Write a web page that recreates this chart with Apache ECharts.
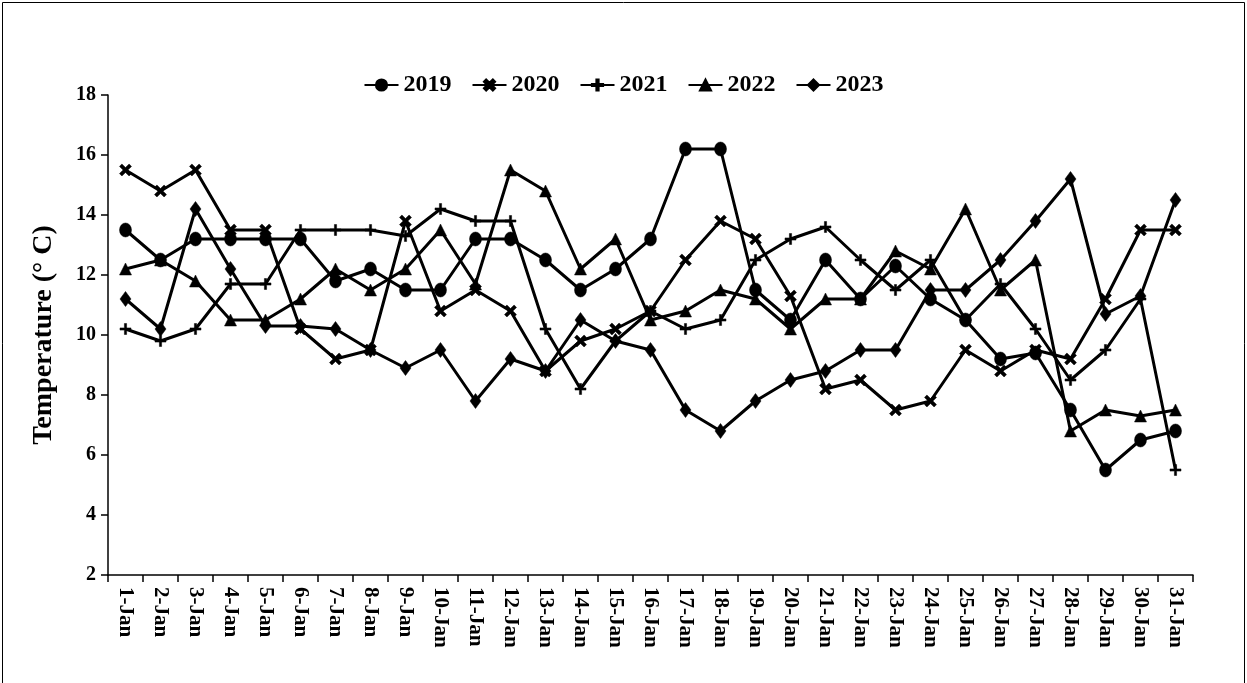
<!DOCTYPE html>
<html><head><meta charset="utf-8">
<script src="https://cdn.jsdelivr.net/npm/echarts@6/dist/echarts.min.js"></script>
<style>html,body{margin:0;padding:0;background:#fff}#c{width:1247px;height:683px}</style>
</head><body><div id="c"></div>
<script>
const days = ['1-Jan','2-Jan','3-Jan','4-Jan','5-Jan','6-Jan','7-Jan','8-Jan','9-Jan','10-Jan','11-Jan','12-Jan','13-Jan','14-Jan','15-Jan','16-Jan','17-Jan','18-Jan','19-Jan','20-Jan','21-Jan','22-Jan','23-Jan','24-Jan','25-Jan','26-Jan','27-Jan','28-Jan','29-Jan','30-Jan','31-Jan'];
const y2019 = [13.5,12.5,13.2,13.2,13.2,13.2,11.8,12.2,11.5,11.5,13.2,13.2,12.5,11.5,12.2,13.2,16.2,16.2,11.5,10.5,12.5,11.2,12.3,11.2,10.5,9.2,9.4,7.5,5.5,6.5,6.8];
const y2020 = [15.5,14.8,15.5,13.5,13.5,10.2,9.2,9.5,13.8,10.8,11.5,10.8,8.8,9.8,10.2,10.8,12.5,13.8,13.2,11.3,8.2,8.5,7.5,7.8,9.5,8.8,9.5,9.2,11.2,13.5,13.5];
const y2021 = [10.2,9.8,10.2,11.7,11.7,13.5,13.5,13.5,13.3,14.2,13.8,13.8,10.2,8.2,9.8,10.8,10.2,10.5,12.5,13.2,13.6,12.5,11.5,12.5,10.5,11.7,10.2,8.5,9.5,11.2,5.5];
const y2022 = [12.2,12.5,11.8,10.5,10.5,11.2,12.2,11.5,12.2,13.5,11.7,15.5,14.8,12.2,13.2,10.5,10.8,11.5,11.2,10.2,11.2,11.2,12.8,12.2,14.2,11.5,12.5,6.8,7.5,7.3,7.5];
const y2023 = [11.2,10.2,14.2,12.2,10.3,10.3,10.2,9.5,8.9,9.5,7.8,9.2,8.8,10.5,9.8,9.5,7.5,6.8,7.8,8.5,8.8,9.5,9.5,11.5,11.5,12.5,13.8,15.2,10.7,11.3,14.5];
const yTicks = [2,4,6,8,10,12,14,16,18];

const F = 'Liberation Serif, Times New Roman, serif';
const X_MARK = 'path://M2,0 L5,3 L8,0 L10,2 L7,5 L10,8 L8,10 L5,7 L2,10 L0,8 L3,5 L0,2 Z';
const PLUS = 'path://M4,0 H6 V4 H10 V6 H6 V10 H4 V6 H0 V4 H4 Z';
function mk(name, data, symbol, size){
  return {name, type:'line', data, symbol, symbolSize:size, showSymbol:true,
    lineStyle:{color:'#000', width:3}, itemStyle:{color:'#000', borderColor:'#000', borderWidth:0.5},
    emphasis:{disabled:true}, animation:false};
}
const chart = echarts.init(document.getElementById('c'));
chart.setOption({
  backgroundColor:'#fff',
  animation:false,
  graphic:[{type:'rect', shape:{x:2.5,y:2.5,width:1242,height:700}, style:{fill:'none', stroke:'#000', lineWidth:1}}],
  legend:{top:68, left:'center', itemWidth:34, itemHeight:14, itemGap:20,
    textStyle:{fontFamily:F, fontWeight:'bold', fontSize:24, color:'#000'},
    data:['2019','2020','2021','2022','2023']},
  grid:{left:108, right:54, top:95, bottom:108},
  xAxis:{type:'category', data:days, boundaryGap:true,
    axisLine:{lineStyle:{color:'#000', width:1.5}},
    axisTick:{show:true, alignWithLabel:false, length:7, lineStyle:{color:'#000', width:1.5}},
    axisLabel:{rotate:-90, interval:0, margin:12, fontFamily:F, fontWeight:'bold', fontSize:21, color:'#000'}},
  yAxis:{type:'value', min:yTicks[0], max:yTicks[yTicks.length-1], interval:2,
    name:'Temperature (° C)', nameLocation:'middle', nameGap:50,
    nameTextStyle:{fontFamily:F, fontWeight:'bold', fontSize:28, color:'#000'},
    splitLine:{show:false},
    axisLine:{show:true, lineStyle:{color:'#000', width:1.5}},
    axisTick:{show:true, length:7, lineStyle:{color:'#000', width:1.5}},
    axisLabel:{margin:12, fontFamily:F, fontWeight:'bold', fontSize:20, color:'#000'}},
  series:[
    mk('2019', y2019, 'circle', [12,14]),
    mk('2020', y2020, X_MARK, 12),
    mk('2021', y2021, PLUS, 11),
    mk('2022', y2022, 'triangle', 12),
    mk('2023', y2023, 'diamond', [11,15])
  ]
});
</script></body></html>
